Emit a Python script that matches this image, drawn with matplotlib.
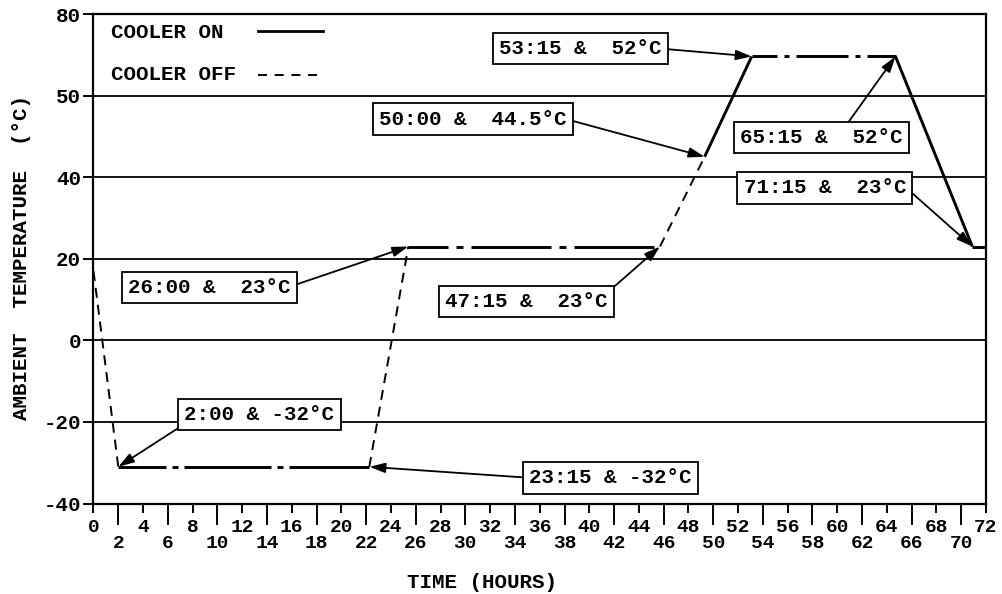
import matplotlib.pyplot as plt
from matplotlib.lines import Line2D

plt.rcParams['font.family'] = ['Liberation Mono', 'DejaVu Sans Mono']
plt.rcParams['font.weight'] = 'bold'
plt.rcParams['lines.scale_dashes'] = False

# Temperature profile (corner points, as plotted)
time = [0, 2, 22.25, 25.4, 45.7, 49.3, 53.1, 64.7, 70.9, 72]
temp = [17, -31, -31, 23, 23, 45, 69.6, 69.6, 23, 23]
# style of each segment between consecutive points
seg_style = ['off', 'hold1', 'off', 'hold2', 'off', 'on', 'hold3', 'on', 'on']

# Annotation texts and the corner point each one points to
labels = ['2:00 & -32°C', '23:15 & -32°C', '26:00 &  23°C', '47:15 &  23°C',
          '50:00 &  44.5°C', '53:15 &  52°C', '65:15 &  52°C', '71:15 &  23°C']
label_point = [1, 2, 3, 4, 5, 6, 7, 8]

# Axis ticks
major_x = list(range(0, 73, 4))
minor_x = list(range(2, 71, 4))
y_ticks = [-40, -20, 0, 20, 40, 60, 80]
y_tick_labels = ['-40', '-20', '0', '20', '40', '50', '80']

W, H = 1003, 594
fig = plt.figure(figsize=(W / 100, H / 100), dpi=100)
ax = fig.add_axes([93.5 / W, 1 - 503.5 / H, (986 - 93.5) / W, (503.5 - 14) / H])

px = 0.72  # pixels -> points
styles = {
    'off': dict(lw=1.4, linestyle=(0, (10 * px, 7 * px))),
    'on': dict(lw=2.1, linestyle='-'),
    'hold1': dict(lw=2.1, linestyle=(39 * px, (87 * px, 6 * px, 6 * px, 6 * px))),
    'hold2': dict(lw=2.1, linestyle=(40 * px, (80 * px, 8 * px, 7 * px, 8 * px))),
    'hold3': dict(lw=2.1, linestyle=(27 * px, (52 * px, 7 * px, 5 * px, 7 * px))),
}
for i, s in enumerate(seg_style):
    ax.plot(time[i:i + 2], temp[i:i + 2], color='black', zorder=2,
            solid_capstyle='butt', dash_capstyle='butt', **styles[s])

# Annotation boxes (centre in data units) and where the arrow leaves the box
box_t = [13.39, 41.72, 9.36, 34.95, 30.6, 39.26, 58.72, 59.0]
box_v = [-18.2, -33.7, 13.0, 9.5, 54.2, 71.5, 49.7, 37.4]
relpos = [(0, 0), (0, 0.5), (1, 0.55), (1, 1), (1, 0.5), (1, 0.5), (0.64, 1), (1, 0.5)]

for txt, idx, bt, bv, rp in zip(labels, label_point, box_t, box_v, relpos):
    ax.annotate(txt, xy=(time[idx], temp[idx]), xytext=(bt, bv),
                ha='center', va='center', fontsize=15, zorder=5,
                bbox=dict(boxstyle='square,pad=0.3', fc='white', ec='black', lw=1.3),
                arrowprops=dict(arrowstyle='-|>,head_length=0.95,head_width=0.3',
                                mutation_scale=10, color='black', lw=1.3,
                                shrinkA=0, shrinkB=0, relpos=rp))

# Legend drawn by hand
ax.text(0.0196, 0.962, 'COOLER ON', transform=ax.transAxes, fontsize=15,
        ha='left', va='center')
ax.text(0.0196, 0.877, 'COOLER OFF', transform=ax.transAxes, fontsize=15,
        ha='left', va='center')
ax.add_line(Line2D([0.184, 0.257], [0.966, 0.966], transform=ax.transAxes,
                   color='black', lw=2.0))
ax.add_line(Line2D([0.184, 0.250], [0.876, 0.876], transform=ax.transAxes,
                   color='black', lw=1.4, linestyle=(0, (9 * px, 7.7 * px))))

ax.set_xlim(0, 72)
ax.set_ylim(-40, 80)

ax.set_xticks(major_x)
ax.set_xticklabels([str(v) for v in major_x])
ax.set_xticks(minor_x, minor=True)
ax.set_xticklabels([str(v) for v in minor_x], minor=True)
ax.set_yticks(y_ticks)
ax.set_yticklabels(y_tick_labels)

ax.tick_params(axis='x', which='major', length=6.5, width=1.4, pad=5, labelsize=14)
ax.tick_params(axis='x', which='minor', length=15, width=1.4, pad=8, labelsize=14)
ax.tick_params(axis='y', length=7, width=1.4, pad=2, labelsize=15)

ax.grid(axis='y', color='black', lw=1.3)
for sp in ax.spines.values():
    sp.set_linewidth(1.6)

fig.text(22 / W, 1 - 258 / H, 'AMBIENT  TEMPERATURE  (°C)', rotation=90,
         ha='center', va='center', fontsize=15)
fig.text(482 / W, 1 - 582 / H, 'TIME (HOURS)', ha='center', va='center', fontsize=15)

fig.savefig('out.png', dpi=100)
